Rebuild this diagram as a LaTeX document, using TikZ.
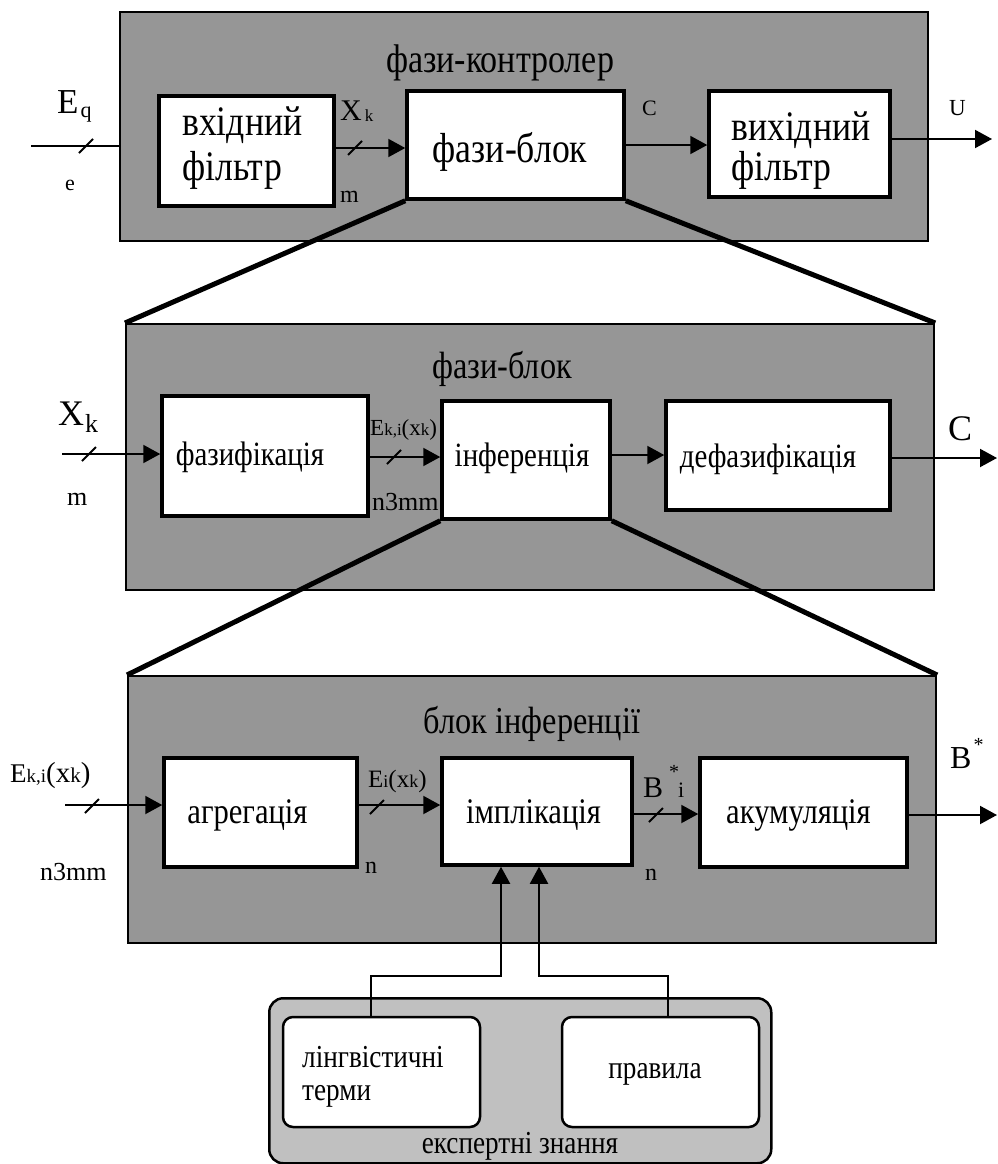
\documentclass[tikz,border=0pt]{standalone}
\usepackage{fontspec}
\setmainfont{Liberation Serif}
\newfontfamily\condserif{Liberation Serif}[FakeStretch=0.85]
\usetikzlibrary{arrows.meta,calc}
\definecolor{panelgray}{RGB}{150,150,150}
\definecolor{knowgray}{RGB}{192,192,192}
\newcommand{\csz}[1]{\condserif\fontsize{#1}{#1}\selectfont}
\newcommand{\nsz}[1]{\fontsize{#1}{#1}\selectfont}
% short diagonal stroke marking a multi-line bus
\newcommand{\busmark}[1]{\draw[slashmark] ($(#1)+(-7,7)$) -- ($(#1)+(7,-7)$);}
\begin{document}
\begin{tikzpicture}[x=1pt,y=-1pt,
  panel/.style={draw=black,line width=2.2pt,fill=panelgray,inner sep=0pt},
  knowbox/.style={draw=black,line width=2.5pt,fill=knowgray,rounded corners=14pt,inner sep=0pt},
  blk/.style={draw=black,line width=3.5pt,fill=white,inner sep=0pt},
  rblk/.style={draw=black,line width=2.5pt,fill=white,rounded corners=10pt,inner sep=0pt},
  arr/.style={line width=2pt,-{Triangle[length=17pt,width=18pt]}},
  wire/.style={line width=2pt},
  slashmark/.style={line width=2pt},
  zoomline/.style={line width=5pt},
  txt/.style={inner sep=0pt,anchor=base},
  txtl/.style={inner sep=0pt,anchor=base west}
]
\useasboundingbox (0,0) rectangle (998,1164);

% ---------- panels ----------
\node[panel, anchor=north west, minimum width=808pt, minimum height=229pt] (ctrl) at (119,11) {};
\node[panel, anchor=north west, minimum width=808pt, minimum height=266pt] (fblk) at (125,323) {};
\node[panel, anchor=north west, minimum width=808pt, minimum height=267pt] (iblk) at (127,675) {};
\node[knowbox, anchor=north west, minimum width=502pt, minimum height=165pt] (know) at (268,997) {};

% ---------- fuzzy controller ----------
\node[txt, font={\csz{40}}] (t-ctrl) at (500,72) {фази-контролер};
\node[blk, minimum width=175pt, minimum height=110pt] (fin) at (246.5,151) {};
\node[txtl, font={\csz{42}}] (fin-a) at (182,135) {вхідний};
\node[txtl, font={\csz{42}}] (fin-b) at (182,180) {фільтр};
\node[blk, minimum width=217pt, minimum height=108pt] (fb) at (515.5,145) {};
\node[txt, font={\csz{42}}] (fb-t) at (510,162) {фази-блок};
\node[blk, minimum width=181pt, minimum height=106pt] (fout) at (799.5,144) {};
\node[txtl, font={\csz{42}}] (fout-a) at (731,140) {вихідний};
\node[txtl, font={\csz{42}}] (fout-b) at (731,180) {фільтр};

\coordinate (in1) at (31,146);
\coordinate (r1) at (0,148);
\coordinate (r2) at (0,145);
\coordinate (out1) at (992,139);
\draw[wire] (in1) -- (in1 -| ctrl.west);
\draw[arr] (fin.east |- r1) -- (fb.west |- r1);
\draw[arr] (fb.east |- r2) -- (fout.west |- r2);
\draw[arr] (fout.east |- out1) -- (out1);
\busmark{86,146}
\busmark{355,148}

\node[txtl] (l-eq) at (57,113) {\nsz{35}E\kern2pt\raisebox{-4pt}{\nsz{22}q}};
\node[txtl, font=\nsz{22}] (l-e) at (65,190) {e};
\node[txtl] (l-xk1) at (340,120) {\nsz{30}X\kern3pt\raisebox{-1pt}{\nsz{17}k}};
\node[txtl, font=\nsz{24}] (l-m1) at (340,202) {m};
\node[txtl, font=\nsz{22}] (l-c1) at (642,115) {C};
\node[txtl, font=\nsz{23}] (l-u) at (949,115) {U};

% ---------- fuzzy block ----------
\node[txt, font={\csz{38}}] (t-fblk) at (502,378) {фази-блок};
\node[blk, minimum width=206pt, minimum height=120pt] (fz) at (265,456) {};
\node[txt, font={\csz{34}}] (fz-t) at (250,465) {фазифікація};
\node[blk, minimum width=168pt, minimum height=118pt] (inf) at (526,460) {};
\node[txt, font={\csz{34}}] (inf-t) at (522,466) {інференція};
\node[blk, minimum width=224pt, minimum height=109pt] (defz) at (778,455.5) {};
\node[txt, font={\csz{34}}] (defz-t) at (768,467) {дефазифікація};

\coordinate (in2) at (62,454);
\coordinate (r3) at (0,457);
\coordinate (r4) at (0,455);
\coordinate (out2) at (997,458);
\draw[arr] (in2) -- (in2 -| fz.west);
\draw[arr] (fz.east |- r3) -- (inf.west |- r3);
\draw[arr] (inf.east |- r4) -- (defz.west |- r4);
\draw[arr] (defz.east |- out2) -- (out2);
\busmark{89,454}
\busmark{394,457}

\node[txtl] (l-xk2) at (58,425) {\nsz{36}X\kern1pt\raisebox{-7pt}{\nsz{26}k}};
\node[txtl, font=\nsz{26}] (l-m2) at (67,505) {m};
\node[txtl] (l-ek2) at (370,435) {\nsz{23}E{\nsz{17}k,i}(x{\nsz{17}k})};
\node[txtl, font=\nsz{26}] (l-n3a) at (372,510) {n3mm};
\node[txtl, font=\nsz{36}] (l-c2) at (948,440) {C};

% ---------- inference block ----------
\node[txt, font={\csz{38}}] (t-iblk) at (532,733) {блок інференції};
\node[blk, minimum width=193pt, minimum height=109pt] (agr) at (260.5,812.5) {};
\node[txt, font={\csz{36}}] (agr-t) at (247.5,823) {агрегація};
\node[blk, minimum width=190pt, minimum height=107pt] (impl) at (537,811.5) {};
\node[txt, font={\csz{36}}] (impl-t) at (533.5,823) {імплікація};
\node[blk, minimum width=207pt, minimum height=109pt] (akum) at (803.5,812.5) {};
\node[txt, font={\csz{36}}] (akum-t) at (798.5,823) {акумуляція};

\coordinate (in3) at (65,805);
\coordinate (r5) at (0,805);
\coordinate (r6) at (0,814);
\coordinate (out3) at (997,815);
\draw[arr] (in3) -- (in3 -| agr.west);
\draw[arr] (agr.east |- r5) -- (impl.west |- r5);
\draw[arr] (impl.east |- r6) -- (akum.west |- r6);
\draw[arr] (akum.east |- out3) -- (out3);
\busmark{92,806}
\busmark{377,807}
\busmark{656,815}

\node[txtl] (l-ek3) at (10,782) {\nsz{27}E{\nsz{19}k,i}{\nsz{29}(}{\nsz{29}x}{\nsz{21}k}{\nsz{29})}};
\node[txtl, font=\nsz{26}] (l-n3b) at (40,880) {n3mm};
\node[txtl] (l-ei) at (368,787) {\nsz{25}E{\nsz{18}i}(x{\nsz{18}k})};
\node[txtl, font=\nsz{24}] (l-n1) at (365,873) {n};
\node[txtl] (l-bi) at (643,797) {\nsz{30}B\kern6pt\rlap{\raisebox{19pt}{\nsz{20}*}}\kern9pt{\nsz{22}i}};
\node[txtl, font=\nsz{24}] (l-n2) at (645,880) {n};
\node[txtl] (l-b) at (950,768) {\nsz{32}B\kern2pt\raisebox{17pt}{\nsz{20}*}};

% ---------- expert knowledge ----------
\node[rblk, minimum width=197pt, minimum height=110pt] (lt) at (381.5,1072) {};
\node[txtl, font={\csz{32}}] (lt-a) at (302,1067) {лінгвістичні};
\node[txtl, font={\csz{32}}] (lt-b) at (302,1100) {терми};
\node[rblk, minimum width=197pt, minimum height=110pt] (pr) at (660.5,1072) {};
\node[txt, font={\csz{32}}] (pr-t) at (655,1078) {правила};
\node[txt, font={\csz{32}}] (know-t) at (520,1153) {експертні знання};

\coordinate (j1) at (501,976);
\coordinate (j2) at (539,976);
\draw[arr] ([xshift=-10.5pt]lt.north) |- (j1) -- (j1 |- impl.south);
\draw[arr] ([xshift=7.5pt]pr.north) |- (j2) -- (j2 |- impl.south);

% ---------- zoom-in lines ----------
\draw[zoomline] (fb.south west) -- (fblk.north west);
\draw[zoomline] (fb.south east) -- (fblk.north east);
\draw[zoomline] (inf.south west) -- (iblk.north west);
\draw[zoomline] (inf.south east) -- (iblk.north east);
\end{tikzpicture}
\end{document}
